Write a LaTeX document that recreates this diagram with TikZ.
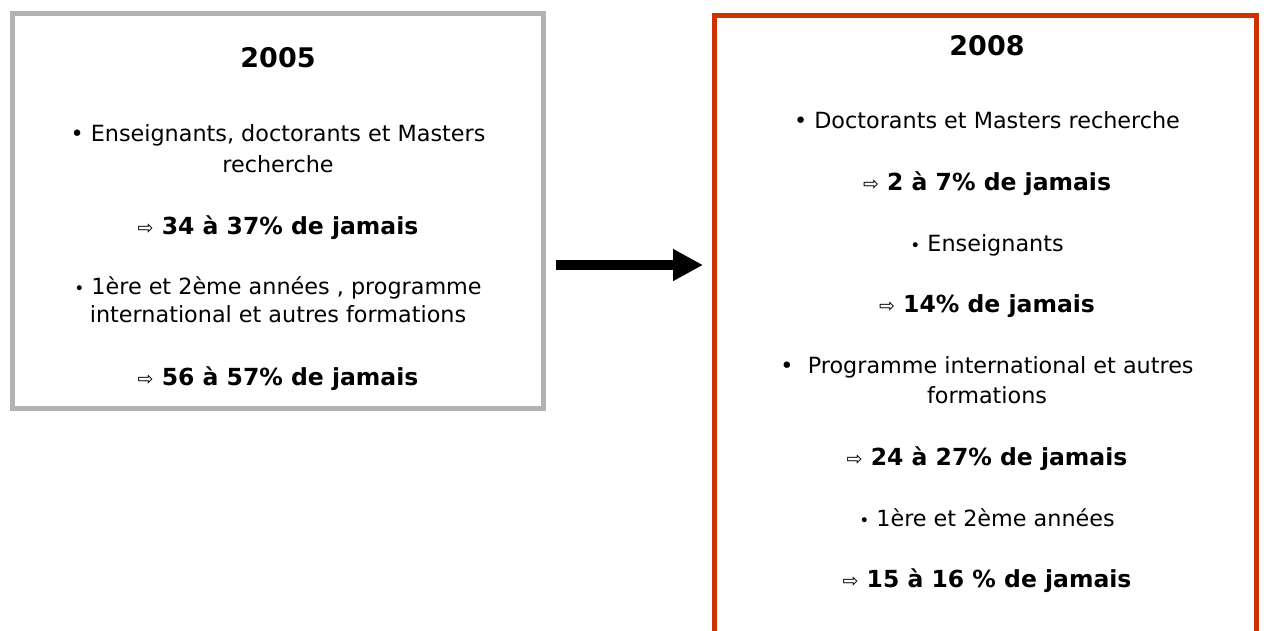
\documentclass[tikz,border=0pt]{standalone}
\usepackage{fontspec}
\setmainfont{DejaVu Sans}
\usetikzlibrary{arrows.meta}

\definecolor{oldgray}{RGB}{178,178,178}
\definecolor{newred}{RGB}{204,51,0}

\newcommand{\resarrow}{{\mdseries\fontsize{19}{19}\selectfont ⇨}\ }
\newcommand{\smallbul}{{\fontsize{17}{17}\selectfont\textbullet}}

\tikzset{
  yearbox/.style={draw=#1, line width=5pt, inner sep=0pt},
  year/.style={font=\fontsize{27}{32}\selectfont\bfseries, anchor=base, inner sep=0pt},
  item/.style={font=\fontsize{22.3}{26}\selectfont, anchor=base, inner sep=0pt},
  result/.style={font=\fontsize{23.5}{28}\selectfont\bfseries, anchor=base, inner sep=0pt},
  bigarrow/.style={line width=10pt, -{Triangle[length=30pt,width=30pt]}}
}

\begin{document}
\begin{tikzpicture}[x=1pt, y=-1pt]
  \useasboundingbox (0,0) rectangle (1266,630);
  \clip (0,0) rectangle (1266,630);

  % Boxes
  \node[yearbox=oldgray, minimum width=531pt, minimum height=395pt] (old) at (277.5,210.5) {};
  \node[yearbox=newred, minimum width=542pt, minimum height=685pt] (new) at (985,357.5) {};

  % 2005
  \node[year] (y05) at (278,67) {2005};
  \node[item] (o1) at (278,141) {\textbullet\ Enseignants, doctorants et Masters};
  \node[item] (o1b) at (278,172) {recherche};
  \node[result] (r1) at (278,234) {\resarrow 34 à 37\% de jamais};
  \node[item] (o2) at (278,294) {\smallbul\ 1ère et 2ème années , programme};
  \node[item] (o2b) at (278,322) {international et autres formations};
  \node[result] (r2) at (278,385) {\resarrow 56 à 57\% de jamais};

  % 2008
  \node[year] (y08) at (987,55) {2008};
  \node[item] (n1) at (987,128) {\textbullet\ Doctorants et Masters recherche};
  \node[result] (s1) at (987,190) {\resarrow 2 à 7\% de jamais};
  \node[item] (n2) at (987,251) {\smallbul\ Enseignants};
  \node[result] (s2) at (987,312) {\resarrow 14\% de jamais};
  \node[item] (n3) at (987,373) {\textbullet\ \ Programme international et autres};
  \node[item] (n3b) at (987,403) {formations};
  \node[result] (s3) at (987,465) {\resarrow 24 à 27\% de jamais};
  \node[item] (n4) at (987,526) {\smallbul\ 1ère et 2ème années};
  \node[result] (s4) at (987,587) {\resarrow 15 à 16 \% de jamais};

  % Arrow
  \coordinate (arrowy) at (0,265);
  \coordinate (a0) at (old.east |- arrowy);
  \coordinate (a1) at (new.west |- arrowy);
  \draw[bigarrow] ([xshift=10.5pt]a0) -- ([xshift=-8.5pt]a1);
\end{tikzpicture}
\end{document}
